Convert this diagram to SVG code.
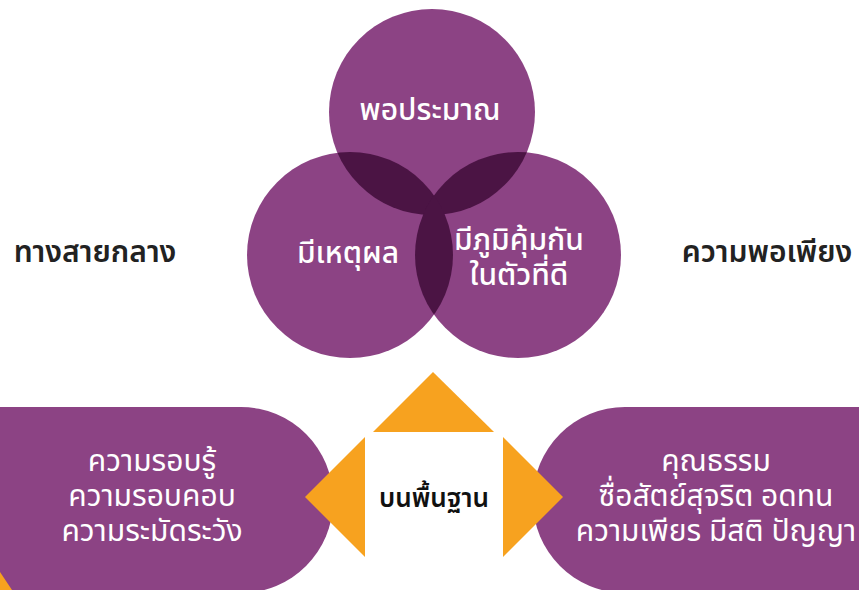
<svg xmlns="http://www.w3.org/2000/svg" width="859" height="590" viewBox="0 0 859 590">
<style>
.c{fill:#8C4384}
.ov{fill:#4B1444}
.w{fill:#fff;font-family:"Noto Sans Thai","Noto Sans","DejaVu Sans",sans-serif;text-anchor:middle}
.big{font-size:30px;font-weight:500}
.pl{font-size:30px}
.side{fill:#222;font-family:"Noto Sans Thai","Noto Sans","DejaVu Sans",sans-serif;font-size:30px;font-weight:600;text-anchor:middle}
.or{fill:#F7A21F}
</style>
<defs>
<clipPath id="cT"><circle cx="432" cy="112" r="103"/></clipPath>
<clipPath id="cL"><circle cx="350" cy="255" r="103"/></clipPath>
</defs>
<rect width="859" height="590" fill="#fff"/>
<g id="venn">
<circle class="c" cx="432" cy="112" r="103"/>
<circle class="c" cx="350" cy="255" r="103"/>
<circle class="c" cx="518" cy="255" r="103"/>
<g clip-path="url(#cT)"><circle class="ov" cx="350" cy="255" r="103"/><circle class="ov" cx="518" cy="255" r="103"/></g>
<g clip-path="url(#cL)"><circle class="ov" cx="518" cy="255" r="103"/></g>
</g>
<g id="n-top"><text class="w big" x="430" y="120">พอประมาณ</text></g>
<g id="n-left"><text class="w big" x="348" y="263">มีเหตุผล</text></g>
<g id="n-right"><text class="w big" x="519" y="250">มีภูมิคุ้มกัน</text><text class="w big" x="519" y="285">ในตัวที่ดี</text></g>
<g id="t-left"><text class="side" x="95" y="262">ทางสายกลาง</text></g>
<g id="t-right"><text class="side" x="767" y="262">ความพอเพียง</text></g>
<g id="pill-left">
<rect class="c" x="-120" y="407" width="453" height="186" rx="92"/>
<text class="w pl" x="152" y="471">ความรอบรู้</text>
<text class="w pl" x="152" y="506">ความรอบคอบ</text>
<text class="w pl" x="152" y="541">ความระมัดระวัง</text>
</g>
<g id="pill-right">
<rect class="c" x="533" y="407" width="453" height="186" rx="92"/>
<text class="w pl" x="716" y="471">คุณธรรม</text>
<text class="w pl" x="716" y="506">ซื่อสัตย์สุจริต อดทน</text>
<text class="w pl" x="716" y="541">ความเพียร มีสติ ปัญญา</text>
</g>
<g id="connectors">
<polygon class="or" points="433,372 494,432 373,432"/>
<polygon class="or" points="305,497 365,437 365,557"/>
<polygon class="or" points="563,497 503,437 503,557"/>
<polygon class="or" points="0,572 12,590 0,590"/>
</g>
<g id="base">
<rect x="365" y="432" width="138" height="128" fill="#fff"/>
<text x="434" y="507" fill="#111" font-family="'Noto Sans Thai','Noto Sans','DejaVu Sans',sans-serif" font-size="26" font-weight="600" text-anchor="middle">บนพื้นฐาน</text>
</g>
</svg>
